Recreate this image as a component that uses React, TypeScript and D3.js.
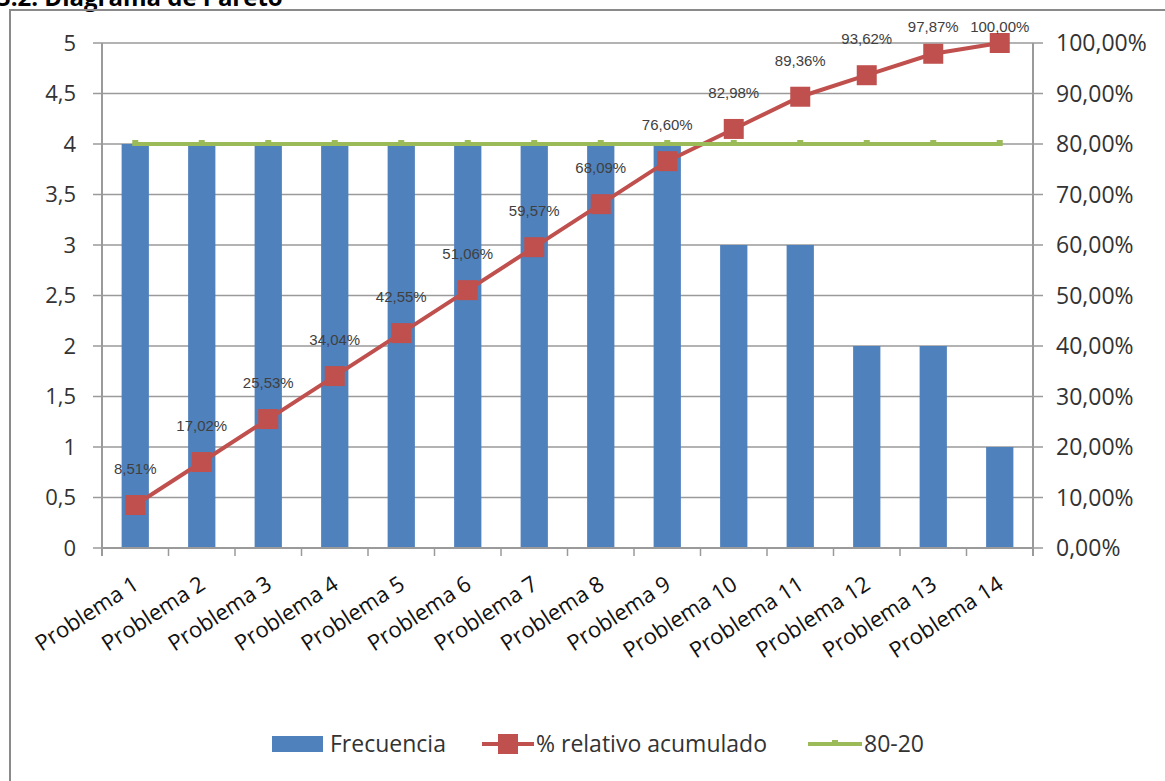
import React from "react";
import * as d3 from "d3";

const categories = [
  "Problema 1", "Problema 2", "Problema 3", "Problema 4", "Problema 5", "Problema 6", "Problema 7",
  "Problema 8", "Problema 9", "Problema 10", "Problema 11", "Problema 12", "Problema 13", "Problema 14",
];
const frecuencia = [4, 4, 4, 4, 4, 4, 4, 4, 4, 3, 3, 2, 2, 1];
const acumulado = [8.51, 17.02, 25.53, 34.04, 42.55, 51.06, 59.57, 68.09, 76.6, 82.98, 89.36, 93.62, 97.87, 100.0];
const regla = [80, 80, 80, 80, 80, 80, 80, 80, 80, 80, 80, 80, 80, 80];
const leftTicks = [0, 0.5, 1, 1.5, 2, 2.5, 3, 3.5, 4, 4.5, 5];
const rightTicks = [0, 10, 20, 30, 40, 50, 60, 70, 80, 90, 100];

const W = 1165;
const H = 781;
const X0 = 102;
const X1 = 1033;
const Y0 = 548;
const Y1 = 43;

const BLUE = "#4F81BD";
const RED = "#C0504D";
const GREEN = "#9BBB59";
const GRID = "#9a9a9a";
const AXIS_FONT = "'Open Sans', 'DejaVu Sans', sans-serif";

const fmt = (v: number) => v.toFixed(2).replace(".", ",");
const fmtL = (v: number) => String(v).replace(".", ",");

export default function App() {
  const x = d3.scaleBand<string>().domain(categories).range([X0, X1]).padding(0);
  const yL = d3.scaleLinear().domain([0, 5]).range([Y0, Y1]);
  const yR = d3.scaleLinear().domain([0, 100]).range([Y0, Y1]);
  const bw = x.bandwidth();
  const barW = bw * 0.41;
  const cx = (c: string) => (x(c) as number) + bw / 2;

  const redLine = d3
    .line<number>()
    .x((_, i) => cx(categories[i]))
    .y((d) => yR(d));
  const greenLine = d3
    .line<number>()
    .x((_, i) => cx(categories[i]))
    .y((d) => yR(d));

  const boundaries = d3.range(categories.length + 1).map((i) => X0 + i * bw);

  return (
    <svg
      width={W}
      height={H}
      style={{ position: "absolute", left: 0, top: 0, background: "#fff" }}
    >
      <rect x={0} y={0} width={W} height={H} fill="#fff" />
      {/* title (cropped at the top edge as in the reference) */}
      <text x={-3} y={6} fontFamily={AXIS_FONT} fontWeight="bold" fontSize={24} fill="#000">
        5.2. Diagrama de Pareto
      </text>
      {/* outer frame */}
      <path d={`M10,${H + 5} L10,10 L${W + 5},10`} fill="none" stroke="#8a8a8a" strokeWidth={2} />

      {/* gridlines */}
      {leftTicks.map((t) => (
        <line key={"g" + t} x1={X0 - 9} x2={X1 + 10} y1={yL(t)} y2={yL(t)} stroke={GRID} strokeWidth={1.5} />
      ))}

      {/* bars */}
      {frecuencia.map((v, i) => (
        <rect
          key={"b" + i}
          x={cx(categories[i]) - barW / 2}
          y={yL(v)}
          width={barW}
          height={Y0 - yL(v)}
          fill={BLUE}
        />
      ))}

      {/* axes */}
      <line x1={X0} x2={X0} y1={Y1} y2={Y0 + 8} stroke={GRID} strokeWidth={2} />
      <line x1={X1} x2={X1} y1={Y1} y2={Y0 + 8} stroke={GRID} strokeWidth={2} />
      <line x1={X0} x2={X1} y1={Y0} y2={Y0} stroke={GRID} strokeWidth={2} />
      {boundaries.map((b, i) => (
        <line key={"xt" + i} x1={b} x2={b} y1={Y0} y2={Y0 + 8} stroke={GRID} strokeWidth={1.5} />
      ))}

      {/* left tick labels */}
      {leftTicks.map((t) => (
        <text
          key={"lt" + t}
          x={76}
          y={yL(t)}
          dy="0.36em"
          textAnchor="end"
          fontFamily={AXIS_FONT}
          fontSize={22}
          fill="#333"
        >
          {fmtL(t)}
        </text>
      ))}
      {/* right tick labels */}
      {rightTicks.map((t) => (
        <text
          key={"rt" + t}
          x={1056}
          y={yR(t)}
          dy="0.36em"
          textAnchor="start"
          fontFamily={AXIS_FONT}
          fontSize={23}
          fill="#333"
        >
          {fmt(t) + "%"}
        </text>
      ))}

      {/* category labels */}
      {categories.map((c) => (
        <text
          key={"cl" + c}
          transform={`translate(${cx(c) + 5},${588}) rotate(-33)`}
          textAnchor="end"
          fontFamily={AXIS_FONT}
          fontSize={22}
          fill="#111"
        >
          {c}
        </text>
      ))}

      {/* red cumulative line */}
      <path d={redLine(acumulado) || ""} fill="none" stroke={RED} strokeWidth={4} />
      {acumulado.map((v, i) => (
        <rect
          key={"m" + i}
          x={cx(categories[i]) - 10}
          y={yR(v) - 10}
          width={20}
          height={20}
          fill={RED}
        />
      ))}

      {/* green 80-20 line */}
      <path d={greenLine(regla) || ""} fill="none" stroke={GREEN} strokeWidth={4} />
      {regla.map((v, i) => (
        <rect key={"gm" + i} x={cx(categories[i]) - 3} y={yR(v) - 4} width={6} height={6} fill={GREEN} />
      ))}

      {/* data labels */}
      {acumulado.map((v, i) => (
        <text
          key={"dl" + i}
          x={cx(categories[i])}
          y={Math.max(27, yR(v) - 36)}
          dy="0.35em"
          textAnchor="middle"
          fontFamily="'Liberation Sans', Arial, sans-serif"
          fontSize={15}
          fill="#404040"
        >
          {fmt(v) + "%"}
        </text>
      ))}

      {/* legend */}
      <g fontFamily={AXIS_FONT} fontSize={23} fill="#333">
        <rect x={272} y={736} width={51} height={16} fill={BLUE} />
        <text x={330} y={744} dy="0.36em">Frecuencia</text>
        <line x1={482} x2={534} y1={744} y2={744} stroke={RED} strokeWidth={4} />
        <rect x={498} y={734} width={20} height={20} fill={RED} />
        <text x={536} y={744} dy="0.36em">% relativo acumulado</text>
        <line x1={808} x2={862} y1={744} y2={744} stroke={GREEN} strokeWidth={4} />
        <rect x={832} y={740} width={6} height={6} fill={GREEN} />
        <text x={864} y={744} dy="0.36em">80-20</text>
      </g>
    </svg>
  );
}
